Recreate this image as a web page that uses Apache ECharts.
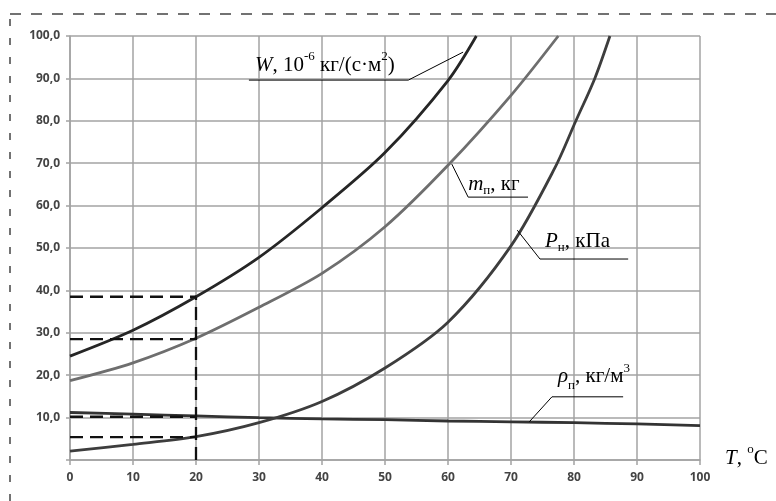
<!DOCTYPE html>
<html>
<head>
<meta charset="utf-8">
<script src="https://cdn.jsdelivr.net/npm/echarts@6/dist/echarts.min.js"></script>
<style>
html,body{margin:0;padding:0;background:#fff;}
#c{width:776px;height:501px;}
</style>
</head>
<body>
<div id="c"></div>
<script>
// ---- data ----
const xTicks = [0,10,20,30,40,50,60,70,80,90,100];
const yTicks = [0,10,20,30,40,50,60,70,80,90,100];

const T_W = [0,10,20,30,40,50,60,64.5];
const W   = [24.5,30.6,38.5,47.8,59.5,72.5,89.5,100];

const T_m = [0,10,20,30,40,50,60,70,77.5];
const M   = [18.7,22.9,28.7,36,44,55,69.5,86,100];

const T_P = [0,10,20,30,40,50,60,70,77,80.3,83.3,85.7];
const P   = [2.1,3.7,5.5,8.8,13.8,21.7,32.5,50.5,69,80,90,100];

const T_rho = [0,10,20,30,40,50,60,70,80,90,100];
const RHO   = [11.2,10.8,10.4,10.0,9.7,9.5,9.2,9.0,8.8,8.5,8.1];

const guideT = 20;
const guideVals = [38.5, 28.5, 10.2, 5.4];

// annotation anchors in data coordinates: [curve point, elbow, underline end]
const annW   = [[62.4,96.2],[53.7,89.6],[28.4,89.6]];
const annM   = [[60.6,69.8],[63.2,62.0],[72.7,62.0]];
const annP   = [[71.0,54.2],[74.6,47.4],[88.6,47.4]];
const annRho = [[72.9,9.0],[76.5,14.9],[87.8,14.9]];

const zip = (a,b) => a.map((v,i)=>[v,b[i]]);

const chart = echarts.init(document.getElementById('c'));
const gridCol = '#a3a3a3';
const lblStyle = {fontFamily:'Open Sans', fontWeight:'bold', fontSize:12, color:'#444'};

const dashSeries = [];
guideVals.forEach(v => {
  dashSeries.push({type:'line', data:[[0,v],[guideT,v]], symbol:'none', silent:true,
    lineStyle:{color:'#111', width:2.3, type:[13,7]}, z:5});
});
dashSeries.push({type:'line', data:[[guideT,0],[guideT,guideVals[0]]], symbol:'none', silent:true,
  lineStyle:{color:'#111', width:2.3, type:[13,7]}, z:5});

function curve(x, y, color) {
  return {type:'line', data:zip(x,y), smooth:0.3, symbol:'none', silent:true,
    clip:true, lineStyle:{color:color, width:2.8}, z:4};
}

chart.setOption({
  animation:false,
  grid:{left:70, right:76, top:36, bottom:41, containLabel:false},
  xAxis:{type:'value', min:xTicks[0], max:xTicks[xTicks.length-1], interval:10,
    axisLine:{show:true, onZero:false, lineStyle:{color:gridCol, width:1.5}},
    axisTick:{show:true, length:5, lineStyle:{color:gridCol, width:1.5}},
    splitLine:{show:true, lineStyle:{color:gridCol, width:1.5}},
    axisLabel:Object.assign({margin:12}, lblStyle)},
  yAxis:{type:'value', min:yTicks[0], max:yTicks[yTicks.length-1], interval:10,
    axisLine:{show:true, lineStyle:{color:gridCol, width:1.5}},
    axisTick:{show:true, length:4, lineStyle:{color:gridCol, width:1.5}},
    splitLine:{show:true, lineStyle:{color:gridCol, width:1.5}},
    axisLabel:Object.assign({margin:10, formatter:v => v===0 ? '' : v.toFixed(1).replace('.', ',')}, lblStyle)},
  series:[
    curve(T_rho, RHO, '#333333'),
    curve(T_P, P, '#3d3d3d'),
    curve(T_m, M, '#6e6e6e'),
    curve(T_W, W, '#262626')
  ].concat(dashSeries)
});

// annotations
const serif = 'Liberation Serif';
const rich = {
  i:{fontFamily:serif, fontStyle:'italic', fontSize:21, color:'#111', lineHeight:26},
  n:{fontFamily:serif, fontSize:21, color:'#111', lineHeight:26},
  sub:{fontFamily:serif, fontSize:13, color:'#111', verticalAlign:'bottom', lineHeight:22},
  sup:{fontFamily:serif, fontSize:13, color:'#111', verticalAlign:'top', lineHeight:30}
};
const px = p => chart.convertToPixel({gridIndex:0}, p);

function annotation(pts, text, dx, dy) {
  const a = px(pts[0]), b = px(pts[1]), c = px(pts[2]);
  const left = Math.min(b[0], c[0]);
  return [
    {type:'polyline', shape:{points:[a,b,c]}, style:{stroke:'#000', lineWidth:1, fill:null}, z:10},
    {type:'text', x:left+dx, y:b[1]+dy, style:{text:text, rich:rich, verticalAlign:'bottom', align:'left'}, z:10}
  ];
}

const g = [];
g.push(...annotation(annW, '{i|W}{n|, 10}{sup|-6}{n| кг/(с·м}{sup|2}{n|)}', 6, 0));
g.push(...annotation(annM, '{i|m}{sub|п}{n|, кг}', 0, 0));
g.push(...annotation(annP, '{i|P}{sub|н}{n|, кПа}', 5, -5));
g.push(...annotation(annRho, '{i|ρ}{sub|п}{n|, кг/м}{sup|3}', 6, -5));

// axis name T, °C
const axEnd = px([xTicks[xTicks.length-1], 0]);
g.push({type:'text', x:axEnd[0]+25, y:axEnd[1]-2,
  style:{text:'{i|T}{n|, }{sup|o}{n|C}', rich:rich, verticalAlign:'middle', align:'left'}, z:10});

// dashed frame
g.push({type:'polyline', shape:{points:[[10,501],[10,14]]},
  style:{stroke:'#444', lineWidth:1.5, lineDash:[7,12], fill:null}, z:10});
g.push({type:'polyline', shape:{points:[[10,14],[776,14]]},
  style:{stroke:'#444', lineWidth:1.5, lineDash:[11,10], fill:null}, z:10});

chart.setOption({graphic:g});
</script>
</body>
</html>
